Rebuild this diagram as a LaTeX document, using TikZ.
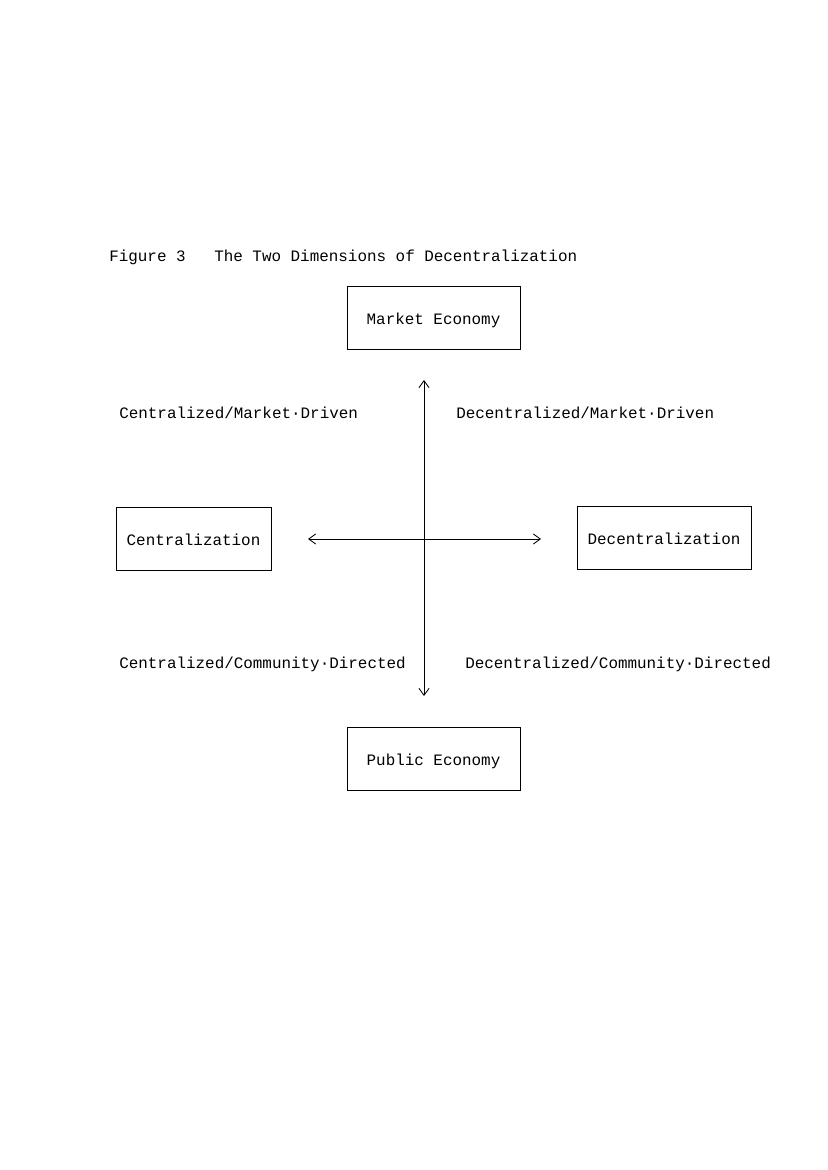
\documentclass[tikz,border=0pt]{standalone}
\usepackage{fontspec}
\setmonofont{Liberation Mono}
\usetikzlibrary{arrows.meta}
\begin{document}
\begin{tikzpicture}[x=0.254mm, y=-0.254mm,
        >={Straight Barb[length=1.8mm, width=2.6mm]},
        every node/.style={font=\ttfamily\fontsize{11.5}{14}\selectfont, inner sep=0pt},
        pole/.style={draw, line width=0.6pt, minimum width=#1, minimum height=16mm, text height=2.4ex, text depth=0pt}]
        \useasboundingbox (0, 0) rectangle (827, 1170);

        \node[anchor=west] (title) at (109, 257) {Figure 3\ \ \ The Two Dimensions of Decentralization};

        \node[pole=43.9mm] (market) at (433.5, 317.5) {Market Economy};
        \node[pole=43.9mm] (public) at (433.5, 758.5) {Public Economy};
        \node[pole=39.4mm] (central) at (193.5, 538.5) {Centralization};
        \node[pole=44.2mm] (decentral) at (664, 537.5) {Decentralization};

        \coordinate (top) at (424, 380);
        \coordinate (bottom) at (424, 696);
        \coordinate (left) at (308, 539);
        \coordinate (right) at (541, 539);
        \draw[line width=0.6pt, <->] (top) -- (bottom);
        \draw[line width=0.6pt, <->] (left) -- (right);

        \node[anchor=west] (cm) at (119, 413) {Centralized/Market·Driven};
        \node[anchor=west] (dm) at (456, 413) {Decentralized/Market·Driven};
        \node[anchor=west] (cc) at (119, 664) {Centralized/Community·Directed};
        \node[anchor=west] (dc) at (465, 664) {Decentralized/Community·Directed};
    \end{tikzpicture}
\end{document}
